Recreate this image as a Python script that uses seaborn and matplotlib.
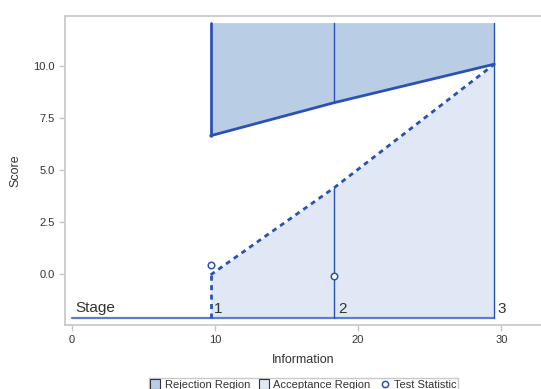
import matplotlib
matplotlib.use("Agg")
import matplotlib.pyplot as plt
from matplotlib.patches import Patch
from matplotlib.lines import Line2D
import seaborn as sns
import pandas as pd

# Group sequential design: boundaries at each stage
stages = [1, 2, 3]
information = [9.70, 18.33, 29.51]
reject_bound = [6.63, 8.22, 10.07]
accept_bound = [-0.06, 4.13, 10.07]
stat_info = [9.70, 18.33]
test_stat = [0.40, -0.13]
score_top = 12.07
stage_base = -2.14

x_ticks = [0, 10, 20, 30]
y_ticks = [0.0, 2.5, 5.0, 7.5, 10.0]

sns.set_style("white")
plt.rcParams["font.family"] = ["Liberation Sans", "DejaVu Sans"]

line_col = "#2A52B4"
reject_fill = "#B9CDE5"
accept_fill = "#DFE8F4"
base_col = "#5B7FCF"
spine_col = "#C6C6C6"
text_col = "#333333"

fig = plt.figure(figsize=(5.41, 3.89), dpi=100)
ax = fig.add_axes([0.12, 0.1645, 0.88, 0.7951])

bounds = pd.DataFrame({"Information": information,
                       "Reject": reject_bound,
                       "Accept": accept_bound})

# Regions
ax.fill_between(information, reject_bound, score_top, color=reject_fill, lw=0, zorder=1)
ax.fill_between(information, stage_base, accept_bound, color=accept_fill, lw=0, zorder=1)

# Boundaries
sns.lineplot(data=bounds, x="Information", y="Reject", ax=ax, color=line_col,
             lw=2, zorder=3, legend=False)
sns.lineplot(data=bounds, x="Information", y="Accept", ax=ax, color=line_col,
             lw=2, ls=(0, (1.8, 1.6)), zorder=3, legend=False)

# Stage verticals
ax.plot([information[0]] * 2, [reject_bound[0], score_top], color=line_col, lw=2, zorder=3)
ax.plot([information[0]] * 2, [stage_base, accept_bound[0]], color=line_col, lw=2,
        ls=(0, (1.8, 1.6)), zorder=3)
ax.plot([information[1]] * 2, [reject_bound[1], score_top], color=line_col, lw=1, zorder=3)
ax.plot([information[1]] * 2, [stage_base, accept_bound[1]], color=line_col, lw=1, zorder=3)
ax.plot([information[2]] * 2, [stage_base, score_top], color=line_col, lw=1, zorder=3)

# Stage axis
ax.plot([0, information[-1]], [stage_base, stage_base], color=base_col, lw=1.6, zorder=2)
ax.text(0.25, stage_base + 0.15, "Stage", fontsize=11, color=text_col,
        ha="left", va="bottom")
for xi, s in zip(information, stages):
    ax.text(xi + 0.25, stage_base + 0.1, str(s), fontsize=11, color=text_col,
            ha="left", va="bottom")

# Test statistics
stats = pd.DataFrame({"Information": stat_info, "Score": test_stat})
sns.scatterplot(data=stats, x="Information", y="Score", ax=ax, marker="o",
                s=22, facecolor="white", edgecolor=line_col, linewidth=1.1, zorder=4)

ax.set_xlim(-0.47, 32.77)
ax.set_ylim(-2.47, 12.40)
ax.set_xticks(x_ticks)
ax.set_xticklabels([str(t) for t in x_ticks])
ax.set_yticks(y_ticks)
ax.set_yticklabels([f"{t:.1f}" for t in y_ticks])
ax.tick_params(axis="both", labelsize=8, colors=spine_col, labelcolor=text_col,
               length=4, width=1, direction="out", bottom=True, left=True)
ax.set_xlabel("Information", fontsize=9, color=text_col, labelpad=6)
ax.set_ylabel("Score", fontsize=9, color=text_col, labelpad=8)
for side in ["left", "top", "bottom"]:
    ax.spines[side].set_color(spine_col)
    ax.spines[side].set_linewidth(1.2)
ax.spines["right"].set_visible(False)

handles = [
    Patch(facecolor=reject_fill, edgecolor="#333333", lw=0.8, label="Rejection Region"),
    Patch(facecolor=accept_fill, edgecolor="#333333", lw=0.8, label="Acceptance Region"),
    Line2D([], [], marker="o", ls="none", markersize=4.5, markerfacecolor="white",
           markeredgecolor=line_col, markeredgewidth=1.1, label="Test Statistic"),
]
fig.legend(handles=handles, loc="upper center", bbox_to_anchor=(0.561, 0.043),
           ncol=3, fontsize=8, frameon=True, fancybox=False, edgecolor="#BBBBBB",
           handlelength=0.9, handleheight=0.9, handletextpad=0.4, columnspacing=0.8,
           borderpad=0.15, labelcolor=text_col)

fig.savefig("out.png", dpi=100)
